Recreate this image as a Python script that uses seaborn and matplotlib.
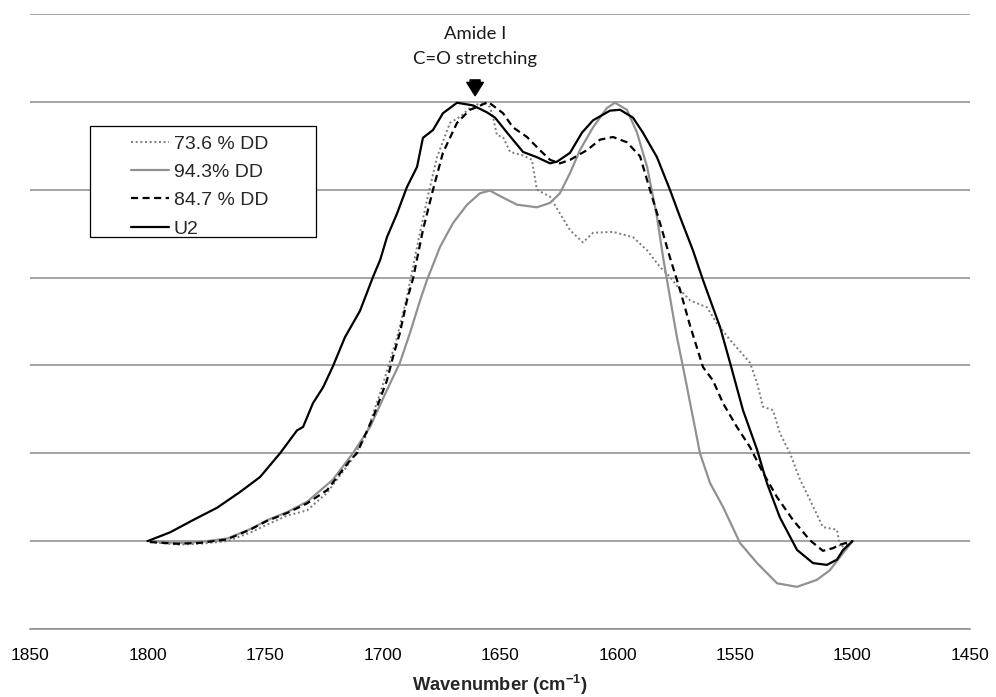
import numpy as np
import pandas as pd
import matplotlib
matplotlib.use("Agg")
import matplotlib.pyplot as plt
from matplotlib.patches import Rectangle
import seaborn as sns

# ---------------- data ----------------
labels = ["73.6 % DD", "94.3% DD", "84.7 % DD", "U2"]
xticks = [1850, 1800, 1750, 1700, 1650, 1600, 1550, 1500, 1450]

d73_wn = [1799, 1787.0, 1777.7, 1766.0, 1756.0, 1749.0, 1740.6, 1732.1, 1723.6, 1713.8,
          1707.0, 1704.0, 1700.2, 1693.8, 1689.6, 1685.3, 1681.1, 1676.8, 1671.3, 1667.0,
          1662.8, 1657.2, 1654.3, 1653.0, 1651.3, 1648.7, 1645.7, 1640.2, 1636.4, 1634.3,
          1628.7, 1624.5, 1620.2, 1614.7, 1610.4, 1601.9, 1593.4, 1587.4, 1581.9, 1577.7,
          1573.4, 1569.1, 1561.9, 1557.7, 1552.1, 1543.6, 1540.6, 1538.1, 1533.8, 1530.9,
          1526.6, 1522.3, 1518.1, 1512.6, 1506.6, 1505.3, 1502.3, 1500]
d73_ab = [0.99, 0.96, 0.97, 1.00, 1.10, 1.19, 1.29, 1.35, 1.55, 1.90,
          2.20, 2.45, 2.75, 3.32, 3.78, 4.35, 4.88, 5.37, 5.76, 5.83,
          5.93, 6.00, 5.94, 5.83, 5.62, 5.60, 5.43, 5.39, 5.34, 5.00,
          4.92, 4.73, 4.54, 4.40, 4.51, 4.52, 4.46, 4.31, 4.12, 4.01,
          3.86, 3.74, 3.66, 3.48, 3.29, 3.03, 2.80, 2.53, 2.49, 2.23,
          2.00, 1.70, 1.47, 1.16, 1.13, 0.93, 0.96, 1.00]

g94_wn = [1799, 1787.0, 1777.7, 1766.0, 1756.0, 1749.0, 1740.6, 1732.0, 1721.1, 1712.6,
          1705.3, 1698.1, 1692.6, 1688.3, 1684.0, 1681.1, 1675.5, 1670.0, 1664.0, 1658.5,
          1654.3, 1648.7, 1642.8, 1634.3, 1628.7, 1624.5, 1620.2, 1616.0, 1610.4, 1604.5,
          1601.1, 1596.0, 1591.7, 1587.4, 1583.2, 1580.6, 1577.7, 1574.7, 1572.1, 1567.9,
          1564.9, 1560.6, 1555.1, 1547.9, 1540.6, 1532.1, 1523.6, 1515.1, 1509.6, 1505.3,
          1500]
g94_ab = [1.00, 0.98, 0.99, 1.03, 1.14, 1.24, 1.33, 1.45, 1.70, 2.00,
          2.30, 2.72, 3.03, 3.37, 3.74, 3.97, 4.35, 4.62, 4.83, 4.96,
          4.99, 4.91, 4.83, 4.80, 4.85, 4.96, 5.19, 5.45, 5.71, 5.93,
          5.99, 5.91, 5.65, 5.26, 4.69, 4.23, 3.78, 3.32, 2.98, 2.41,
          2.00, 1.66, 1.39, 0.98, 0.75, 0.52, 0.48, 0.56, 0.67, 0.82,
          1.00]

d84_wn = [1799, 1787.4, 1777.7, 1766.2, 1756.4, 1749.2, 1740.6, 1732.1, 1723.6, 1713.8,
          1710.9, 1704.0, 1698.1, 1695.5, 1692.6, 1689.6, 1687.0, 1682.8, 1678.5, 1674.3,
          1668.3, 1662.8, 1659.8, 1655.1, 1652.1, 1648.7, 1644.5, 1638.5, 1633.0, 1628.7,
          1624.5, 1620.2, 1613.0, 1607.4, 1601.9, 1596.0, 1590.4, 1586.2, 1581.9, 1577.7,
          1573.4, 1569.1, 1563.6, 1559.4, 1555.1, 1549.2, 1543.6, 1538.1, 1532.1, 1525.3,
          1518.1, 1512.6, 1508.3, 1505.3, 1500]
d84_ab = [0.99, 0.97, 0.98, 1.02, 1.13, 1.23, 1.32, 1.43, 1.58, 1.92,
          2.00, 2.41, 2.83, 3.10, 3.37, 3.74, 3.99, 4.54, 5.00, 5.42,
          5.76, 5.91, 5.94, 6.00, 5.94, 5.87, 5.71, 5.60, 5.45, 5.34,
          5.30, 5.34, 5.45, 5.57, 5.60, 5.54, 5.38, 5.00, 4.62, 4.23,
          3.86, 3.45, 2.98, 2.83, 2.57, 2.30, 2.07, 1.78, 1.50, 1.24,
          1.01, 0.89, 0.92, 0.96, 1.00]

u2_wn = [1800, 1790.4, 1780.6, 1770.4, 1760.6, 1752.1, 1743.6, 1736.4, 1733.8, 1729.6,
         1725.3, 1721.1, 1716.0, 1709.6, 1704.0, 1701.0, 1698.1, 1693.8, 1689.6, 1685.3,
         1682.8, 1678.5, 1674.3, 1668.3, 1661.5, 1655.5, 1652.1, 1647.0, 1640.2, 1634.3,
         1628.7, 1625.7, 1620.2, 1615.1, 1610.4, 1603.2, 1598.9, 1593.4, 1589.2, 1583.2,
         1577.7, 1573.4, 1567.9, 1563.6, 1559.4, 1556.4, 1552.1, 1546.6, 1540.6, 1536.4,
         1530.9, 1523.6, 1516.8, 1510.9, 1506.6, 1504.0, 1500]
u2_ab = [1.00, 1.10, 1.24, 1.38, 1.56, 1.73, 2.00, 2.26, 2.30, 2.57,
         2.75, 2.99, 3.32, 3.62, 4.01, 4.20, 4.46, 4.73, 5.03, 5.26,
         5.59, 5.68, 5.87, 5.99, 5.96, 5.88, 5.82, 5.65, 5.43, 5.37,
         5.30, 5.32, 5.42, 5.65, 5.79, 5.90, 5.91, 5.82, 5.65, 5.37,
         5.00, 4.69, 4.31, 3.97, 3.66, 3.44, 3.03, 2.49, 2.04, 1.66,
         1.27, 0.90, 0.75, 0.73, 0.79, 0.90, 1.00]

annot_lines = ["Amide I", "C=O stretching"]
annot_x = 1660.6

# ---------------- styling ----------------
sns.set_style("white")
plt.rcParams["font.family"] = ["Liberation Sans", "DejaVu Sans"]
plt.rcParams["mathtext.fontset"] = "custom"
plt.rcParams["mathtext.rm"] = "Liberation Sans"
plt.rcParams["mathtext.bf"] = "Liberation Sans:bold"

fig = plt.figure(figsize=(9.96, 6.97), dpi=100)
ax = fig.add_axes([30 / 996, 68 / 697, 940 / 996, 615 / 697])

series = [
    (d73_wn, d73_ab, labels[0], "#7a7a7a", (0, (1, 1.4)), 1.4),
    (g94_wn, g94_ab, labels[1], "#919191", "-", 1.6),
    (d84_wn, d84_ab, labels[2], "#000000", (0, (3.2, 2.0)), 1.6),
    (u2_wn, u2_ab, labels[3], "#000000", "-", 1.6),
]
handles = []
for wn, ab, lab, col, ls, lw in series:
    df = pd.DataFrame({"wn": wn, "ab": ab})
    sns.lineplot(data=df, x="wn", y="ab", sort=False, estimator=None, ax=ax,
                 color=col, linestyle=ls, linewidth=lw, zorder=3)
    handles.append(ax.get_lines()[-1])

ax.set_xlim(1850, 1450)
ax.set_ylim(0, 7)
ax.set_xticks(xticks)
ax.set_xticklabels([str(t) for t in xticks])
ax.set_yticks(range(8))
ax.set_yticklabels([])
ax.tick_params(axis="x", length=0, pad=14, labelsize=12.5, colors="black")
ax.tick_params(axis="y", length=0)
ax.yaxis.grid(True, color="#8c8c8c", linewidth=1.1)
ax.xaxis.grid(False)
for s in ["left", "right", "top"]:
    ax.spines[s].set_visible(False)
ax.spines["bottom"].set_color("#8c8c8c")
ax.spines["bottom"].set_linewidth(1.1)
ax.set_ylabel("")
ax.set_xlabel(r"Wavenumber (cm$^{\mathbf{-1}}$)", fontsize=13.2, fontweight="bold")
ax.xaxis.set_label_coords(0.5, -0.072)

# annotation
ax.text(annot_x, 6.77, annot_lines[0], ha="center", va="center",
        fontsize=13.3, family=["Lato", "DejaVu Sans"], color="#1a1a1a")
ax.text(annot_x, 6.49, annot_lines[1], ha="center", va="center",
        fontsize=13.3, family=["Lato", "DejaVu Sans"], color="#1a1a1a")
ax.annotate("", xy=(annot_x, 6.07), xytext=(annot_x, 6.25),
            arrowprops=dict(arrowstyle="simple,head_length=0.6,head_width=0.75,tail_width=0.45",
                            fc="black", ec="black", shrinkA=0, shrinkB=0,
                            mutation_scale=16))

# legend box + legend
ax.add_patch(Rectangle((90 / 996, 1 - 237 / 697), 226 / 996, 111 / 697,
                       transform=fig.transFigure, facecolor="white",
                       edgecolor="black", linewidth=0.9, zorder=4, clip_on=False))
leg = ax.legend(handles=handles, labels=labels, loc="upper left",
                bbox_to_anchor=(131 / 996, 1 - 135 / 697),
                bbox_transform=fig.transFigure, frameon=False,
                fontsize=14, handlelength=1.95, handletextpad=0.25,
                labelspacing=0.55, borderpad=0, borderaxespad=0)
leg.set_zorder(5)

fig.savefig("out.png", dpi=100)
